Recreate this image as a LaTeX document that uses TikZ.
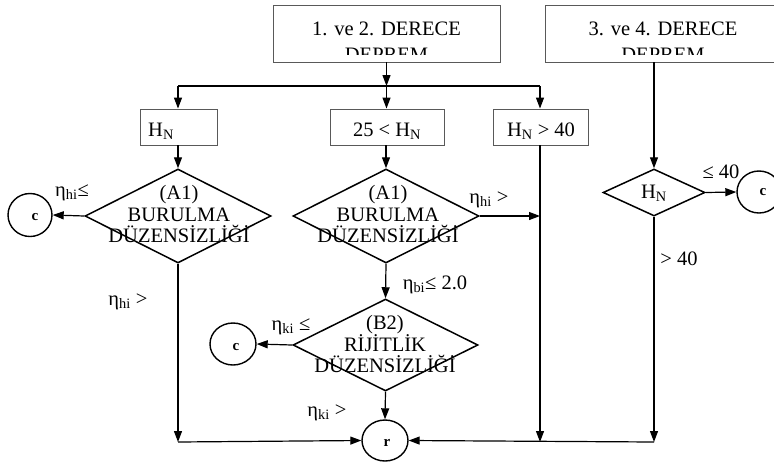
\documentclass[tikz,border=0pt]{standalone}
\usepackage{fontspec}
\setmainfont{Liberation Serif}
\usetikzlibrary{arrows.meta,shapes.geometric}
\begin{document}
\begin{tikzpicture}[x=1pt,y=-1pt,
  txt/.style={font=\fontsize{20.5}{21.5}\selectfont, inner sep=0pt},
  box/.style={draw=black!65, line width=0.9pt, inner sep=0pt},
  dia/.style={diamond, draw, line width=1.5pt, inner sep=0pt, minimum width=#1, minimum height=94pt},
  circ/.style={ellipse, draw, line width=1.4pt, minimum width=44pt, minimum height=43pt, inner sep=0pt},
  con/.style={line width=1.2pt},
  arr/.style={con, -{Triangle[length=11pt,width=8pt]}},
  lab/.style={font=\fontsize{20.5}{21.5}\selectfont, inner sep=0pt},
  glyph/.style={font=\fontsize{15}{15}\selectfont\bfseries, inner sep=0pt}]
\useasboundingbox (0,0) rectangle (774,461);
% top boxes
\node[box, minimum width=227pt, minimum height=57pt] (t1) at (386.5,33.5) {};
\node[box, minimum width=236pt, minimum height=57pt] (t2) at (663,33.5) {};
\node[txt, anchor=base] (t1a) at (386.5,35) {1. ve 2. DERECE};
\node[txt, anchor=base] (t2a) at (663,35) {3. ve 4. DERECE};
\begin{scope}
\clip (273,40) rectangle (781,54);
\node[txt, anchor=base] (t1b) at (386.5,61) {DEPREM};
\node[txt, anchor=base] (t2b) at (663,61) {DEPREM};
\end{scope}
% second row boxes
\node[box, minimum width=77pt, minimum height=36pt] (b1) at (178.5,127) {};
\node[box, minimum width=114pt, minimum height=36pt] (b2) at (387,127) {};
\node[box, minimum width=95pt, minimum height=36pt] (b3) at (540.5,127) {};
\node[txt, anchor=base west] (b1t) at (148,136) {H\textsubscript{N}};
\node[txt, anchor=base] (b2t) at (387,136) {25 < H\textsubscript{N}};
\node[txt, anchor=base] (b3t) at (541,136) {H\textsubscript{N} > 40};
% diamonds
\node[dia=186pt] (d1) at (178,216) {};
\node[dia=186pt] (d2) at (386,216) {};
\node[dia=185pt, minimum height=92pt] (d3) at (385.5,345) {};
\node[dia=102pt, minimum height=47pt] (d4) at (654,192.5) {};
\node[txt, align=center] (d1t) at (179,214) {(A1)\\BURULMA\\DÜZENSİZLİĞİ};
\node[txt, align=center] (d2t) at (388,214) {(A1)\\BURULMA\\DÜZENSİZLİĞİ};
\node[txt, align=center] (d3t) at (385,344) {(B2)\\RİJİTLİK\\DÜZENSİZLİĞİ};
\node[txt] (d4t) at (654,193) {H\textsubscript{N}};
% circles
\node[circ] (c1) at (30,215) {};
\node[circ, minimum width=46pt, minimum height=42pt] (c2) at (233,344) {};
\node[circ, minimum width=44pt, minimum height=42pt] (c3) at (759,192) {};
\node[circ, minimum width=46pt, minimum height=41pt] (c4) at (385,440.5) {};
\node[glyph] (g1) at (35,217) {c};
\node[glyph] (g2) at (236,347) {c};
\node[glyph] (g3) at (763,192) {c};
\node[glyph] (g4) at (387,443) {r};
% junction points
\coordinate (bar) at (386.5,86);
\coordinate (barL) at (178,86);
\coordinate (barR) at (540,86);
\coordinate (jL) at (178,442);
\coordinate (jR1) at (540,442);
\coordinate (jR2) at (654,442);
% connectors
\draw[arr] (t1.south) -- (bar);
\draw[con] (barL) -- (barR);
\draw[arr] (barL) -- (barL |- b1.north);
\draw[arr] (bar) -- (bar |- b2.north);
\draw[arr] (barR) -- (barR |- b3.north);
\draw[arr] (b1.south -| d1.north) -- (d1.north);
\draw[arr] (b2.south -| d2.north) -- (d2.north);
\draw[arr] (d1.west) -- (c1.east);
\draw[arr] (d1.south) -- (jL);
\draw[arr] (jL) -- (c4.west);
\draw[arr] (b3.south -| jR1) -- (jR1);
\draw[arr] (d2.east) -- (d2.east -| jR1);
\draw[arr] (d2.south) -- (d3.north);
\draw[arr] (d3.west) -- (c2.east);
\draw[arr] (d3.south) -- (c4.north);
\draw[arr] (jR2) -- (c4.east);
\draw[arr] (t2.south -| d4.north) -- (d4.north);
\draw[arr] (d4.east) -- (c3.west);
\draw[arr] (d4.south) -- (jR2);
% labels
\node[lab] (l1) at (72,193) {η\textsubscript{hi}≤};
\node[lab] (l2) at (128,302) {η\textsubscript{hi} >};
\node[lab] (l3) at (489,200) {η\textsubscript{hi} >};
\node[lab] (l4) at (435,285) {η\textsubscript{bi}≤ 2.0};
\node[lab] (l5) at (291,327) {η\textsubscript{ki} ≤};
\node[lab] (l6) at (327,413) {η\textsubscript{ki} >};
\node[lab] (l7) at (721,172) {≤ 40};
\node[lab] (l8) at (679,259) {> 40};
\end{tikzpicture}
\end{document}
